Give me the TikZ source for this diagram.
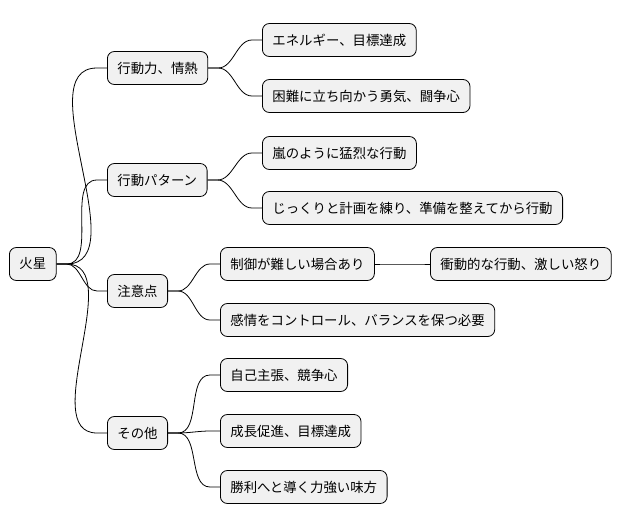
\documentclass[tikz,border=0pt]{standalone}
\usepackage{fontspec}
\setmainfont{Noto Sans CJK JP}
\begin{document}
\begin{tikzpicture}[x=1pt,y=-1pt,
  box/.style={draw=black,fill={rgb,255:red,241;green,241;blue,241},rounded corners=7pt,
    anchor=west,minimum height=33pt,inner xsep=10pt,font=\fontsize{13.4}{15}\selectfont,line width=0.8pt},
  ln/.style={draw=black,line width=0.8pt}]
\useasboundingbox (0,0) rectangle (628,527);
\node[box] (r) at (9,264) {火星};
\node[box] (a) at (107,68) {行動力、情熱};
\node[box] (a1) at (262,40) {エネルギー、目標達成};
\node[box] (a2) at (262,96) {困難に立ち向かう勇気、闘争心};
\node[box] (b) at (107,180) {行動パターン};
\node[box] (b1) at (262,153) {嵐のように猛烈な行動};
\node[box] (b2) at (262,208) {じっくりと計画を練り、準備を整えてから行動};
\node[box] (c) at (107,291) {注意点};
\node[box] (c1) at (220,264) {制御が難しい場合あり};
\node[box] (c11) at (430,264) {衝動的な行動、激しい怒り};
\node[box] (c2) at (220,320) {感情をコントロール、バランスを保つ必要};
\node[box] (d) at (107,433) {その他};
\node[box] (d1) at (220,375) {自己主張、競争心};
\node[box] (d2) at (220,431) {成長促進、目標達成};
\node[box] (d3) at (220,487) {勝利へと導く力強い味方};
\foreach \p/\c in {r/a,r/b,r/c,r/d,a/a1,a/a2,b/b1,b/b2,c/c1,c/c2,c1/c11,d/d1,d/d2,d/d3}{
  \draw[ln] (\p.east) -- ++(10,0) to[out=0,in=180,looseness=0.9] ([xshift=-10pt]\c.west) -- (\c.west);
}
\end{tikzpicture}
\end{document}
